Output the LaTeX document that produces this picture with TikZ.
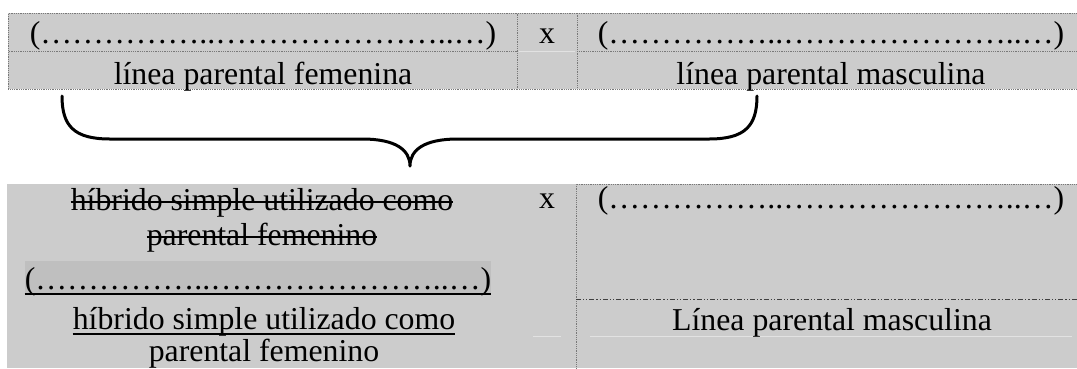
\documentclass[tikz,border=0pt]{standalone}
\usepackage{fontspec}
\setmainfont{Liberation Serif}
\usetikzlibrary{positioning}

\definecolor{cellgray}{RGB}{204,204,204}
\definecolor{shadegray}{RGB}{191,191,191}
\definecolor{rulegray}{RGB}{120,120,120}
\definecolor{seamgray}{RGB}{226,226,226}

\begin{document}
\begin{tikzpicture}[x=1pt, y=1pt,
    txt/.style={anchor=base, inner sep=0pt, font=\fontsize{31.8}{36}\selectfont},
    cell/.style={draw=rulegray, densely dotted, line width=0.8pt, fill=cellgray, anchor=north west, inner sep=0pt},
    seam/.style={draw=seamgray, line width=1pt},
    textline/.style={line width=1.6pt},
    brace/.style={line width=3pt, line cap=round, line join=round}]
    \useasboundingbox (0,0) rectangle (1077,-368);

    % Top table: cells
    \node [cell, minimum width=509pt, minimum height=38pt] (fem1) at (8,-13) {};
    \node [cell, minimum width=509pt, minimum height=38pt] (fem2) at (8,-51) {};
    \node [cell, minimum width=60pt, minimum height=76pt] (cx1cell) at (517,-13) {};
    \node [cell, minimum width=506pt, minimum height=38pt] (mas1) at (577,-13) {};
    \node [cell, minimum width=506pt, minimum height=38pt] (mas2) at (577,-51) {};
    \draw [seam] (519,-51) -- (575,-51);

    % Top table: texts
    \node [txt] (pf1) at (263,-43) {(……………..…………………..…)};
    \node [txt] (lpf) at (263,-84) {línea parental femenina};
    \node [txt] (cx1) at (547,-43) {x};
    \node [txt] (pm1) at (831,-43) {(……………..…………………..…)};
    \node [txt] (lpm1) at (831,-84) {línea parental masculina};

    % Brace
    \coordinate (bl) at (62,-96);
    \coordinate (br) at (757,-96);
    \coordinate (bt) at (410,-166);
    \draw [brace] (bl) .. controls (62,-126) and (74,-139) .. (110,-139) -- (362,-139)
        .. controls (396,-139) and (410,-150) .. (bt)
        .. controls (410,-150) and (424,-139) .. (458,-139) -- (709,-139)
        .. controls (745,-139) and (757,-126) .. (br);

    % Bottom table
    \fill [cellgray] (7,-184) rectangle (1077,-368);
    \draw [draw=rulegray, densely dotted, line width=0.8pt] (1080,-184) -- (576,-184) -- (576,-368);
    \draw [draw=black!75, line width=0.8pt, dash pattern=on 5pt off 2pt on 1.2pt off 2pt on 1.2pt off 2pt] (576,-299) -- (1077,-299);
    \draw [seam] (533,-336) -- (561,-336);
    \draw [seam] (590,-336) -- (1072,-336);

    % Bottom table: texts
    \node [txt] (hs1) at (262,-210) {híbrido simple utilizado como};
    \node [txt] (hs2) at (262,-245) {parental femenino};
    \node [txt, fill=shadegray, text height=28pt, text depth=6pt] (hd) at (258,-289) {(……………..…………………..…)};
    \node [txt] (hu1) at (264,-329) {híbrido simple utilizado como};
    \node [txt] (hu2) at (264,-361) {parental femenino};
    \node [txt] (cx2) at (547,-208) {x};
    \node [txt] (pm2) at (831,-208) {(……………..…………………..…)};
    \node [txt] (lpm2) at (832,-330) {Línea parental masculina};

    % Strike-through and underlines
    \draw [textline] ([yshift=8pt]hs1.base west) -- ([yshift=8pt]hs1.base east);
    \draw [textline] ([yshift=8pt]hs2.base west) -- ([yshift=8pt]hs2.base east);
    \draw [textline] ([yshift=-5pt]hd.base west) -- ([yshift=-5pt]hd.base east);
    \draw [textline] ([yshift=-5pt]hu1.base west) -- ([yshift=-5pt]hu1.base east);
\end{tikzpicture}
\end{document}
